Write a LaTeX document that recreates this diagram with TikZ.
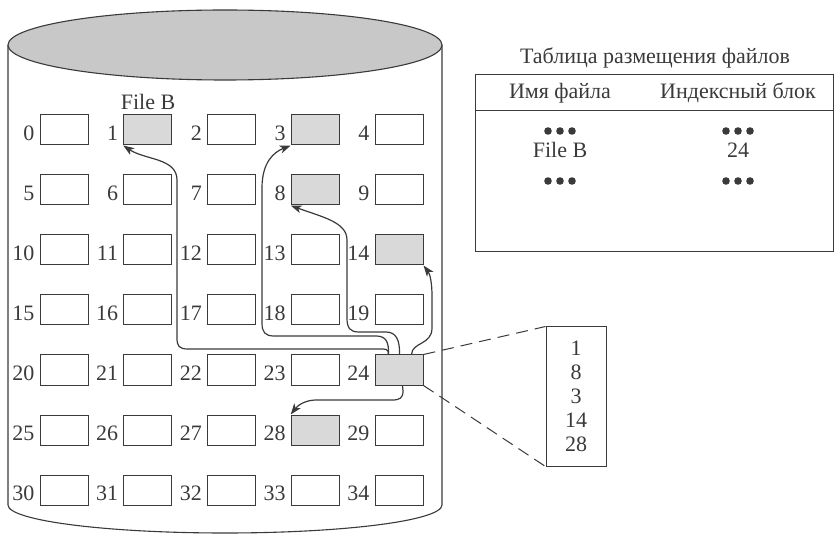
\documentclass[tikz,border=0pt]{standalone}
\usepackage{fontspec}
\setmainfont{Liberation Serif}
\usetikzlibrary{arrows.meta,calc}
\definecolor{ink}{HTML}{3A3A3A}
\definecolor{shade}{HTML}{D9D9D9}
\definecolor{disk}{HTML}{C8C8C8}
\tikzset{
  txt/.style={font=\fontsize{22}{24}\selectfont, text=ink, inner sep=0pt},
  blk/.style={draw=ink, line width=1pt, minimum width=48pt, minimum height=30pt, inner sep=0pt},
  cell1/.style={fill=shade}, cell3/.style={fill=shade}, cell8/.style={fill=shade},
  cell14/.style={fill=shade}, cell24/.style={fill=shade}, cell28/.style={fill=shade},
  lbl/.style={txt, anchor=east},
  link/.style={draw=ink, line width=1.2pt, -{Stealth[length=11pt,width=8pt,inset=3pt]}},
  dashline/.style={draw=ink, line width=1pt, dash pattern=on 12pt off 7pt},
  cyl/.style={draw=ink, line width=1.1pt},
  dot/.style={fill=ink, draw=none},
}
\begin{document}
\begin{tikzpicture}[x=1pt,y=-1pt]
\useasboundingbox (0,0) rectangle (835,534);
% disk
\draw[cyl] (8,45) -- (8,505) arc[start angle=180,end angle=360,x radius=217pt,y radius=28pt] -- (442,45);
\draw[cyl, fill=disk] (225,45) ellipse[x radius=217pt, y radius=35pt];
% blocks
\foreach \r in {0,...,6} {
  \foreach \c in {0,...,4} {
    \pgfmathtruncatemacro\n{5*\r+\c}
    \node[blk, cell\n/.try] (b\n) at ({64+83.75*\c},{130+60*\r}) {};
    \node[lbl] (l\n) at ([xshift=-5pt,yshift=-3pt]b\n.west) {\n};
  }
}
\node[txt] (fileb) at (148,102) {File B};
% arrows
\draw[link] ($(b24.north west)+(14,0)$) .. controls +(0,-6) and (386,349) .. (378,349) -- (188,349) .. controls (179,349) and (177,346) .. (177,338) -- (177,180) .. controls (177,158) and (145,160) .. (b1.south west);
\draw[link] ($(b24.north west)+(14,0)$) .. controls (389,342) and (386,336) .. (376,336) -- (274,336) .. controls (265,336) and (262,332) .. (262,323) -- (262,188) .. controls (262,162) and (274,152) .. (b3.south west);
\draw[link] ($(b24.north west)+(25,0)$) .. controls (400,340) and (396,332) .. (386,332) -- (359,332) .. controls (350,332) and (347,328) .. (347,318) -- (347,240) .. controls (347,222) and (322,217) .. (b8.south west);
\draw[link] ($(b24.north west)+(37,0)$) .. controls (412,342) and (432,345) .. (432,328) -- (432,296) .. controls (432,283) and (430,274) .. (b14.south east);
\draw[link] ($(b24.south west)+(28,0)$) -- (403,391) .. controls (403,398) and (400,400) .. (392,400) -- (316,400) .. controls (306,400) and (298,405) .. (b28.north west);
% index block
\node[draw=ink, line width=1pt, minimum width=60pt, minimum height=139pt, align=center, txt] (idx) at (576,396.5) {1\\8\\3\\14\\28};
\draw[dashline] (b24.north east) -- (idx.north west);
\draw[dashline] (b24.south east) -- (idx.south west);
% table
\node[txt] (ttl) at (655,58) {Таблица размещения файлов};
\node[draw=ink, line width=1pt, minimum width=358pt, minimum height=177pt, inner sep=0pt] (fat) at (654,163.5) {};
\draw[draw=ink, line width=1pt] ([yshift=-36pt]fat.north west) -- ([yshift=-36pt]fat.north east);
\node[txt] (h1) at (560,93) {Имя файла};
\node[txt] (h2) at (738,93) {Индексный блок};
\node[txt] (f1) at (560,150) {File B};
\node[txt] (f2) at (738,150) {24};
\foreach \cx in {560,738} {
  \foreach \cy in {131,181} {
    \foreach \d in {-12,0,12} {
      \fill[dot] ({\cx+\d},\cy) circle[radius=3.8pt];
    }
  }
}
\end{tikzpicture}
\end{document}
